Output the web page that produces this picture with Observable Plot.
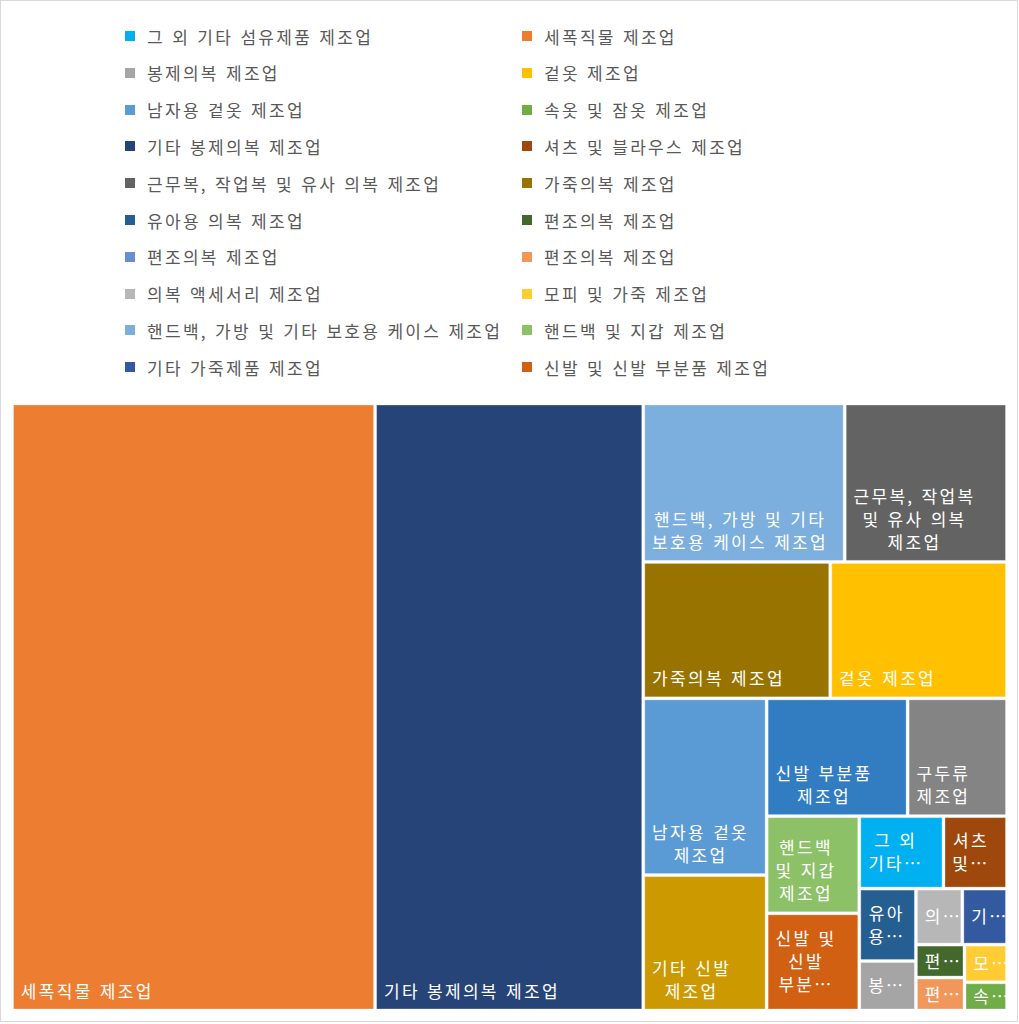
<!DOCTYPE html>
<html><head><meta charset="utf-8">
<script src="https://cdn.jsdelivr.net/npm/d3@7"></script>
<script src="https://cdn.jsdelivr.net/npm/@observablehq/plot@0.6"></script>
<style>
html,body{margin:0;padding:0;background:#fff;}
#frame{position:relative;width:1019px;height:1024px;overflow:hidden;background:#fff;}
#border{position:absolute;left:0;top:0;width:1018px;height:1022px;box-sizing:border-box;border:1.5px solid #d9d9d9;pointer-events:none;}
#legend{position:absolute;left:0;top:0;width:1019px;height:394px;font-family:"Noto Sans CJK KR",sans-serif;font-size:17px;letter-spacing:2.3px;word-spacing:1.1px;color:#595959;}
.item{position:absolute;display:flex;align-items:center;height:24px;white-space:nowrap;}
.sw{width:10px;height:10px;margin-right:12px;flex:none;}
#chart{position:absolute;left:0;top:394px;}
.tm text{letter-spacing:2.3px;word-spacing:1.1px;}
</style></head><body>
<div id="frame"><div id="legend"></div><div id="chart"></div><div id="border"></div></div>
<script>
// ---- data ----
const categories = [
  "그 외 기타 섬유제품 제조업",
  "세폭직물 제조업",
  "봉제의복 제조업",
  "겉옷 제조업",
  "남자용 겉옷 제조업",
  "속옷 및 잠옷 제조업",
  "기타 봉제의복 제조업",
  "셔츠 및 블라우스 제조업",
  "근무복, 작업복 및 유사 의복 제조업",
  "가죽의복 제조업",
  "유아용 의복 제조업",
  "편조의복 제조업",
  "편조의복 제조업",
  "편조의복 제조업",
  "의복 액세서리 제조업",
  "모피 및 가죽 제조업",
  "핸드백, 가방 및 기타 보호용 케이스 제조업",
  "핸드백 및 지갑 제조업",
  "기타 가죽제품 제조업",
  "신발 및 신발 부분품 제조업",
  "신발 부분품 제조업",
  "구두류 제조업",
  "기타 신발 제조업"
];
const values = [61, 2203, 28, 241, 218, 12, 1627, 46, 257, 255, 41, 16, 0, 16, 26, 16, 319, 90, 25, 90, 166, 117, 167];
const colors = [
  "#00B0F0", "#ED7D31", "#A5A5A5", "#FFC000", "#5B9BD5", "#70AD47",
  "#264478", "#9E480E", "#636363", "#997300", "#255E91", "#43682B",
  "#698ED0", "#F1975A", "#B7B7B7", "#FFCD33", "#7CAFDD", "#8CC168",
  "#335AA1", "#D26012", "#327DC2", "#848484", "#CC9A00"
];
const legendShown = 20;

// ---- legend ----
const legend = document.getElementById("legend");
for (let i = 0; i < legendShown; i++) {
  const row = Math.floor(i / 2), col = i % 2;
  const el = document.createElement("div");
  el.className = "item";
  el.style.left = (col ? 522 : 125) + "px";
  el.style.top = (36 + row * 36.8 - 12) + "px";
  el.innerHTML = `<div class="sw" style="background:${colors[i]}"></div><span>${categories[i]}</span>`;
  legend.appendChild(el);
}

// ---- treemap layout ----
const data = categories.map((name, i) => ({name, value: values[i], color: colors[i], i}));
const W = 995, H = 607;
const root = d3.hierarchy({children: data.filter(d => d.value > 0)})
  .sum(d => d.value || 0)
  .sort((a, b) => b.value - a.value);
d3.treemap().tile(d3.treemapSquarify.ratio(1)).size([W, H])(root);
const leaves = root.leaves().map(n => ({...n.data, x0: n.x0, x1: n.x1, y0: n.y0, y1: n.y1}));

// ---- label wrapping ----
const FS = 17, LS = 2.3, WS = 1.1, LH = 23;
const ctx = document.createElement("canvas").getContext("2d");
ctx.font = `${FS}px "Noto Sans CJK KR"`;
function measure(s) {
  const n = [...s].length;
  const sp = s.split(" ").length - 1;
  return ctx.measureText(s).width + LS * Math.max(0, n - 1) + WS * sp;
}
function wrap(text, avail, maxLines) {
  const words = text.split(" ");
  const lines = [];
  let cur = "";
  for (const word of words) {
    const cand = cur ? cur + " " + word : word;
    if (measure(cand) <= avail) { cur = cand; continue; }
    if (cur) { lines.push(cur); cur = ""; }
    if (measure(word) <= avail) { cur = word; continue; }
    let piece = "";
    for (const ch of word) {
      if (!piece || measure(piece + ch) <= avail) piece += ch;
      else { lines.push(piece); piece = ch; }
    }
    cur = piece;
  }
  if (cur) lines.push(cur);
  if (lines.length <= maxLines) return {lines, truncated: false};
  const keep = lines.slice(0, maxLines);
  let last = keep[maxLines - 1];
  while ([...last].length > 1 && measure(last + "…") + 8 > avail) {
    last = [...last].slice(0, -1).join("").trimEnd();
  }
  keep[maxLines - 1] = last + "…";
  return {lines: keep, truncated: true};
}
const labels = leaves.map(d => {
  const w = d.x1 - d.x0, h = d.y1 - d.y0;
  const maxLines = Math.max(1, Math.floor((h - 12) / LH));
  const {lines, truncated} = wrap(d.name, w - 22, maxLines);
  const bw = d3.max(lines, measure);
  const n = lines.length;
  const base = truncated ? (d.y0 + d.y1) / 2 + (n - 1) * LH / 2 + 6 : d.y1 - 13.5;
  return {x: d.x0 + 9.5 + bw / 2, y: base, text: lines.join("\n")};
});

const chart = Plot.plot({
  width: 1019,
  height: 630,
  margin: 0,
  className: "tm",
  x: {domain: [0, W], range: [12, 1007], axis: null},
  y: {domain: [0, H], range: [9.5, 616.5], axis: null},
  marks: [
    Plot.rect(leaves, {x1: "x0", x2: "x1", y1: "y0", y2: "y1", fill: "color", inset: 1.5, stroke: "#ffffff", strokeOpacity: 0.3, strokeWidth: 1}),
    Plot.text(labels, {x: "x", y: "y", text: "text", fill: "#ffffff", textAnchor: "middle", lineAnchor: "bottom", lineHeight: LH / FS, fontSize: FS, fontFamily: '"Noto Sans CJK KR", sans-serif'})
  ]
});
document.getElementById("chart").appendChild(chart);
</script>
</body></html>
